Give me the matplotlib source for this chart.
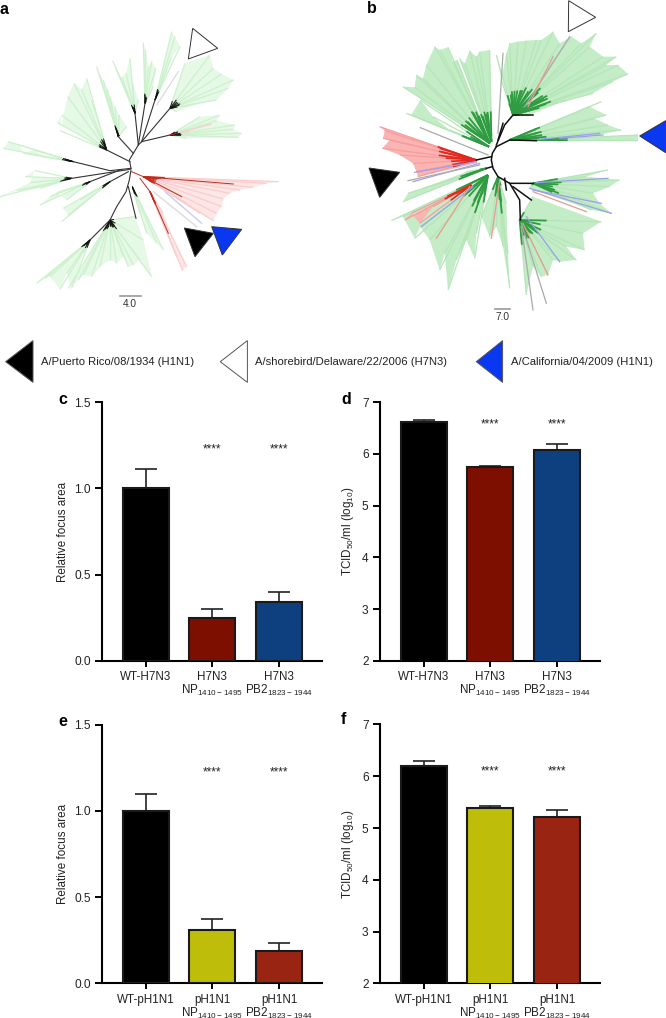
import matplotlib
matplotlib.use('Agg')
import matplotlib.pyplot as plt
from matplotlib.collections import LineCollection

plt.rcParams['font.family'] = ['Liberation Sans', 'DejaVu Sans']
plt.rcParams['mathtext.fontset'] = 'custom'
plt.rcParams['mathtext.rm'] = 'Liberation Sans'
plt.rcParams['mathtext.default'] = 'regular'

W, H = 666, 1018

# bar panels
labels_h7 = ['WT-H7N3', 'H7N3\nNP$_{1410-1495}$', 'H7N3\nPB2$_{1823-1944}$']
labels_h1 = ['WT-pH1N1', 'pH1N1\nNP$_{1410-1495}$', 'pH1N1\nPB2$_{1823-1944}$']
focus_h7 = [1.0, 0.25, 0.34]
focus_h7_err = [0.11, 0.05, 0.06]
tcid_h7 = [6.62, 5.74, 6.08]
tcid_h7_err = [0.04, 0.03, 0.11]
focus_h1 = [1.0, 0.31, 0.19]
focus_h1_err = [0.095, 0.06, 0.045]
tcid_h1 = [6.2, 5.38, 5.22]
tcid_h1_err = [0.09, 0.05, 0.12]
colors_h7 = ['#000000', '#7d0f00', '#0e3f7e']
colors_h1 = ['#000000', '#bdbd0a', '#9a2412']

# tree a: each clade is a hub and its tips, in tree units
a_green = [
    ((355, 410), [(290, 200), (298, 222), (310, 240), (322, 268), (330, 290), (345, 320), (358, 345), (380, 380)]),
    ((320, 450), [(172, 368), (185, 345), (180, 392), (203, 290), (222, 250), (245, 268), (260, 235), (275, 300), (300, 400)]),
    ((405, 340), [(338, 182), (350, 210), (365, 232), (378, 220), (390, 175), (398, 250), (415, 300)]),
    ((435, 310), [(430, 128), (437, 150), (445, 200), (455, 185), (468, 205), (460, 260)]),
    ((465, 300), [(515, 95), (525, 110), (540, 140), (515, 170), (500, 210), (480, 270)]),
    ((510, 325), [(555, 190), (630, 165), (640, 205), (665, 222), (700, 240), (685, 265), (650, 300), (590, 312), (530, 335)]),
    ((510, 405), [(600, 350), (660, 345), (650, 362), (705, 375), (700, 388), (725, 400), (715, 412), (560, 415)]),
    ((220, 485), [(10, 445), (25, 425), (60, 435), (70, 460), (100, 450), (130, 470), (205, 480)]),
    ((215, 535), [(75, 530), (105, 512), (90, 548), (0, 590), (50, 572), (120, 565), (205, 538)]),
    ((270, 545), [(120, 615), (150, 590), (170, 578), (200, 600), (255, 560)]),
    ((330, 545), [(185, 665), (205, 645), (190, 625), (240, 600), (320, 550)]),
    ((270, 720), [(110, 850), (135, 835), (150, 830), (180, 868), (200, 820), (215, 865), (250, 760)]),
    ((330, 660), [(205, 865), (235, 840), (250, 825), (275, 830), (300, 800), (330, 780), (350, 790), (370, 770), (385, 800), (400, 795), (420, 780), (455, 830), (430, 720), (405, 650)]),
    ((397, 560), [(490, 750), (470, 730), (440, 700), (420, 640)]),
]
a_red = [
    ((430, 530), [(835, 545), (800, 550), (760, 562), (720, 570), (690, 580), (670, 597), (665, 620), (650, 640), (640, 662), (600, 640), (560, 610)]),
    ((450, 575), [(560, 800), (548, 812), (530, 770), (520, 740), (510, 700), (490, 640)]),
    ((510, 405), [(635, 372), (570, 392)]),
]
a_blue_line = ([495, 605], [575, 670])
a_grey_line = ([460, 590], [575, 680])
a_grey_line2 = ([470, 535], [315, 215])
a_skeleton = [
    [(393, 505), (388, 480), (400, 460), (415, 435), (425, 425), (465, 300)],
    [(425, 425), (510, 405)], [(425, 425), (510, 325)], [(415, 435), (435, 310)],
    [(415, 435), (405, 340)], [(400, 460), (355, 410)], [(390, 485), (320, 450)],
    [(393, 505), (330, 512), (220, 485)], [(390, 508), (215, 535)],
    [(360, 510), (270, 545)], [(385, 515), (330, 545)],
    [(393, 510), (388, 540), (378, 575), (350, 620), (330, 660), (270, 720)],
    [(385, 560), (408, 655)],
]
a_red_stems = [[(395, 515), (430, 530), (700, 552)], [(430, 530), (545, 590)], [(420, 535), (450, 575), (505, 700)]]

# tree b
b_green = [
    ((470, 430), [(210, 260), (245, 262), (250, 225), (270, 235), (280, 195), (305, 140), (320, 150), (345, 142), (360, 185), (372, 180), (465, 415)]),
    ((468, 440), [(220, 340), (235, 345), (262, 300), (300, 350), (350, 390), (460, 438)]),
    ((475, 425), [(380, 175), (395, 190), (410, 152), (430, 170), (440, 155), (470, 150), (478, 400)]),
    ((540, 345), [(490, 165), (505, 240), (520, 160), (530, 130), (555, 125), (580, 122), (610, 120), (625, 120), (660, 95), (680, 130), (715, 110), (745, 130), (790, 100), (770, 140), (810, 170), (850, 170), (820, 195), (855, 195), (885, 222), (840, 245), (780, 280), (700, 300), (590, 345)]),
    ((530, 420), [(805, 305), (770, 320), (820, 345), (785, 355), (825, 375), (865, 390), (800, 405), (610, 420)]),
    ((600, 420), [(915, 405), (915, 422), (600, 424)]),
    ((460, 505), [(210, 605), (225, 580), (270, 565), (400, 515)]),
    ((465, 525), [(175, 662), (210, 650), (245, 715), (262, 680), (290, 720), (320, 810), (335, 760), (345, 870), (370, 780), (400, 720), (425, 775), (430, 700), (460, 540)]),
    ((495, 530), [(445, 650), (470, 710), (490, 680), (510, 740), (530, 865), (525, 760), (520, 610)]),
    ((560, 660), [(580, 885), (600, 800), (625, 830), (645, 825), (660, 780), (680, 785), (730, 780), (700, 740), (755, 750), (750, 700), (805, 665), (600, 590)]),
    ((600, 550), [(825, 510), (760, 530), (860, 540), (830, 560), (780, 580), (800, 610), (835, 640), (775, 630), (590, 565)]),
]
b_red = [
    ((430, 480), [(140, 380), (155, 392), (150, 415), (170, 420), (148, 445), (200, 465), (240, 490), (250, 515), (255, 530), (430, 490)]),
    ((415, 555), [(215, 660), (235, 640), (260, 670), (300, 620), (400, 560)]),
]
b_blue_lines = [([245, 430], [517, 485]), ([240, 440], [545, 490]), ([600, 800], [420, 400]), ([680, 810], [415, 405]),
                ([610, 825], [548, 535]), ([600, 805], [570, 610]), ([590, 835], [565, 640]), ([580, 680], [650, 785]), ([265, 420], [680, 560])]
b_grey_lines = [([262, 465], [383, 465]), ([225, 440], [542, 495]), ([510, 495], [160, 400]), ([710, 575], [110, 320]),
                ([640, 565], [910, 670]), ([600, 565], [930, 680])]
b_redline_lines = [([310, 410], [715, 560]), ([660, 585], [170, 320]), ([475, 500], [715, 540]), ([760, 600], [635, 575]), ([645, 570], [825, 670])]
b_skeleton = [
    [(490, 440), (478, 460), (475, 480), (480, 505), (495, 530), (530, 550), (600, 550)],
    [(490, 440), (530, 420), (610, 422)], [(490, 435), (515, 375), (540, 345), (600, 345)],
    [(495, 420), (510, 370)], [(530, 550), (560, 600), (562, 660)], [(540, 560), (595, 600)],
    [(515, 535), (520, 570)], [(475, 470), (430, 480)], [(478, 500), (460, 505)],
]

# arrowheads, in tree units
a_arrows = [([578, 653, 565], [85, 145, 177], 'white'), ([553, 640, 585], [684, 700, 770], 'black'), ([635, 725, 667], [680, 688, 765], '#0a37f0')]
b_arrows = [([707, 788, 706], [2, 52, 95], 'white'), ([998, 920, 998], [362, 408, 458], '#0a37f0'), ([108, 200, 140], [504, 517, 592], 'black')]

legend_names = ['A/Puerto Rico/08/1934 (H1N1)', 'A/shorebird/Delaware/22/2006 (H7N3)', 'A/California/04/2009 (H1N1)']
legend_colors = ['black', 'white', '#0a37f0']
legend_tip_x = [5.6, 220.3, 476.3]
legend_base_x = [33, 247.4, 502.6]
legend_text_x = [40.9, 255, 510.7]


def px_axes(fig, left, top, right, bottom):
    return fig.add_axes([left / W, 1 - bottom / H, (right - left) / W, (bottom - top) / H])


def draw_fans(ax, clades, fill, line, dark, dark_frac, dark_lw):
    for hub, tips in clades:
        ax.fill([hub[0]] + [t[0] for t in tips], [hub[1]] + [t[1] for t in tips], color=fill, lw=0, zorder=1)
        ax.add_collection(LineCollection([[hub, t] for t in tips], colors=line, linewidths=0.9, zorder=2))
        inner = [[hub, (hub[0] + dark_frac * (t[0] - hub[0]), hub[1] + dark_frac * (t[1] - hub[1]))] for t in tips]
        ax.add_collection(LineCollection(inner, colors=dark, linewidths=dark_lw, zorder=3))


def tree_axes(fig, left):
    ax = px_axes(fig, left, 0, left + 333, 320)
    ax.set_xlim(0, 999)
    ax.set_ylim(960, 0)
    ax.axis('off')
    return ax


def bar_panel(fig, left, top, bottom, values, errs, colors, labels, ylim, yticks, ylabel, star_y, fmt):
    ax = px_axes(fig, left, top, left + 220.3, bottom)
    x = [0, 1, 2]
    ax.errorbar(x, values, yerr=[[0, 0, 0], errs], fmt='none', ecolor='#222222', elinewidth=1.2,
                capsize=8, capthick=1.2, zorder=2)
    ax.bar(x, values, width=0.69, color=colors, edgecolor='#1a1a1a', linewidth=1.5, zorder=3)
    ax.set_xlim(-0.66, 2.645)
    ax.set_ylim(*ylim)
    ax.set_xticks(x)
    ax.set_xticklabels(labels, fontsize=8.4, color='#222222', linespacing=1.0)
    ax.set_yticks(yticks)
    ax.set_yticklabels([fmt % t for t in yticks], fontsize=8.6, color='#222222')
    ax.set_ylabel(ylabel, fontsize=8.4, color='#222222', labelpad=4)
    ax.tick_params(axis='y', length=5, width=1.4, pad=3)
    ax.tick_params(axis='x', length=4.5, width=1.4, pad=3)
    for s in ['top', 'right']:
        ax.spines[s].set_visible(False)
    for s in ['left', 'bottom']:
        ax.spines[s].set_linewidth(1.5)
    for i in [1, 2]:
        ax.text(i, star_y, '****', ha='center', va='center', fontsize=8.5, color='#222222')
    return ax


fig = plt.figure(figsize=(W / 100, H / 100), dpi=100)

# tree a
ax_a = tree_axes(fig, 0)
draw_fans(ax_a, a_green, '#e6f8e6', '#cdf1cd', '#111111', 0.16, 0.7)
draw_fans(ax_a, a_red, '#fde6e6', '#fbcccc', '#c62a1a', 0.16, 0.7)
ax_a.plot(*a_blue_line, color='#c8cdf5', lw=1)
ax_a.plot(*a_grey_line, color='#dcdcdc', lw=1)
ax_a.plot(*a_grey_line2, color='#d8d8d8', lw=0.8)
for path in a_skeleton:
    ax_a.plot([p[0] for p in path], [p[1] for p in path], color='#333333', lw=0.8, zorder=4)
for path in a_red_stems:
    ax_a.plot([p[0] for p in path], [p[1] for p in path], color='#b5301f', lw=0.7, zorder=4)
for xs, ys, c in a_arrows:
    ax_a.fill(xs, ys, facecolor=c, edgecolor='#333333', lw=0.7, zorder=6, clip_on=False)
ax_a.plot([360, 422], [887, 887], color='#999999', lw=1.2)
ax_a.text(390, 911, '4.0', ha='center', va='center', fontsize=7.3, color='#333333')

# tree b
ax_b = tree_axes(fig, 333)
draw_fans(ax_b, b_green, '#c4ecc6', '#b4e6b8', '#2f9c42', 0.33, 1.3)
draw_fans(ax_b, b_red, '#fab4b4', '#f99c9c', '#e02a20', 0.4, 1.2)
for xs, ys in b_blue_lines:
    ax_b.plot(xs, ys, color='#9aa0ee', lw=0.9, zorder=4)
for xs, ys in b_grey_lines:
    ax_b.plot(xs, ys, color='#aaaaaa', lw=0.9, zorder=4)
for xs, ys in b_redline_lines:
    ax_b.plot(xs, ys, color='#e89a90', lw=0.9, zorder=4)
for path in b_skeleton:
    ax_b.plot([p[0] for p in path], [p[1] for p in path], color='#111111', lw=1.1, zorder=5)
for xs, ys, c in b_arrows:
    ax_b.fill(xs, ys, facecolor=c, edgecolor='#333333', lw=0.7, zorder=6, clip_on=False)
ax_b.plot([487, 530], [926, 926], color='#999999', lw=1.2)
ax_b.text(508, 950, '7.0', ha='center', va='center', fontsize=7.3, color='#333333')

# overlay for legend and panel letters, in figure pixels
over = fig.add_axes([0, 0, 1, 1], zorder=10)
over.set_xlim(0, W)
over.set_ylim(H, 0)
over.axis('off')
over.patch.set_alpha(0)
for name, c, tip, base, tx in zip(legend_names, legend_colors, legend_tip_x, legend_base_x, legend_text_x):
    over.fill([base, tip, base], [340.6, 361.7, 382.4], facecolor=c, edgecolor='#555555', lw=0.7)
    over.text(tx, 361.7, name, ha='left', va='center', fontsize=8.1, color='#222222')
for letter, lx, ly in [('a', 0, 9), ('b', 367, 8), ('c', 58, 399), ('d', 341, 399), ('e', 58, 722), ('f', 341, 719)]:
    over.text(lx, ly, letter, ha='left', va='center', fontsize=11.5, fontweight='bold', color='black')

focus_ticks = [0.0, 0.5, 1.0, 1.5]
tcid_ticks = [2, 3, 4, 5, 6, 7]
tcid_label = 'TCID$_{50}$/ml (log$_{10}$)'
bar_panel(fig, 101.7, 402.3, 660.7, focus_h7, focus_h7_err, colors_h7, labels_h7, (0, 1.5), focus_ticks, 'Relative focus area', 1.227, '%.1f')
bar_panel(fig, 379.7, 402.3, 660.7, tcid_h7, tcid_h7_err, colors_h7, labels_h7, (2, 7), tcid_ticks, tcid_label, 6.57, '%d')
bar_panel(fig, 101.7, 724.5, 983.3, focus_h1, focus_h1_err, colors_h1, labels_h1, (0, 1.5), focus_ticks, 'Relative focus area', 1.224, '%.1f')
bar_panel(fig, 379.7, 724.5, 983.3, tcid_h1, tcid_h1_err, colors_h1, labels_h1, (2, 7), tcid_ticks, tcid_label, 6.09, '%d')

fig.savefig('out.png', dpi=100)
